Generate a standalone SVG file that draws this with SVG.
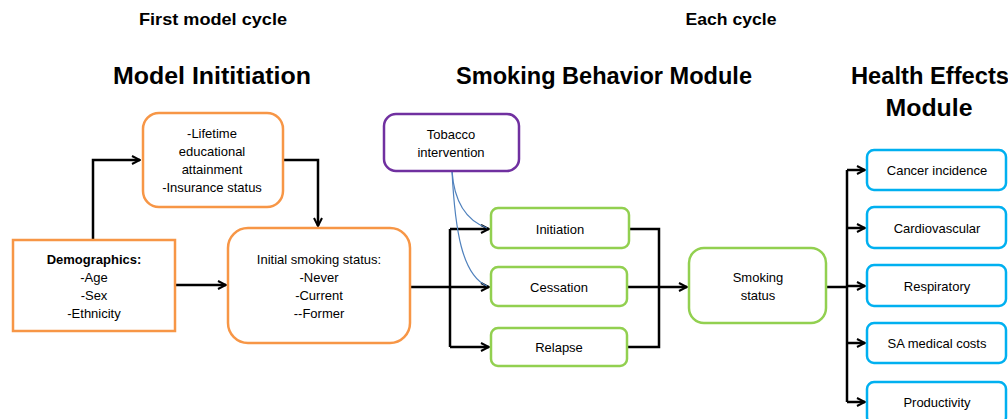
<svg xmlns="http://www.w3.org/2000/svg" width="1008" height="419" viewBox="0 0 1008 419">
<defs>
<style>
.t{font-family:"Liberation Sans",Arial,sans-serif;font-size:13px;fill:#000;text-anchor:middle;dominant-baseline:central}
.h1{font-family:"Liberation Sans",Arial,sans-serif;font-size:17px;font-weight:bold;fill:#000;text-anchor:middle;dominant-baseline:central}
.h2{font-family:"Liberation Sans",Arial,sans-serif;font-size:23px;font-weight:bold;fill:#000;text-anchor:middle;dominant-baseline:central}
.or{fill:#fff;stroke:#F79646;stroke-width:2.5}
.pu{fill:#fff;stroke:#7030A0;stroke-width:2.5}
.gr{fill:#fff;stroke:#92D050;stroke-width:2.5}
.bl{fill:#fff;stroke:#00B0F0;stroke-width:2.5}
.c{fill:none;stroke:#000;stroke-width:2.5}
.cb{fill:none;stroke:#4F81BD;stroke-width:1.2}
</style>
<marker id="a" viewBox="0 0 10 10" refX="9" refY="5" markerWidth="4" markerHeight="4" orient="auto" markerUnits="strokeWidth">
<path d="M1,1 L9,5 L1,9" fill="none" stroke="#000" stroke-width="2"/>
</marker>
</defs>
<rect width="1008" height="419" fill="#fff"/>
<text class="h1" x="213" y="19" textLength="148" lengthAdjust="spacingAndGlyphs">First model cycle</text>
<text class="h1" x="731" y="19" textLength="91" lengthAdjust="spacingAndGlyphs">Each cycle</text>
<text class="h2" x="212" y="76" textLength="198" lengthAdjust="spacingAndGlyphs">Model Inititiation</text>
<text class="h2" x="604" y="76" textLength="296" lengthAdjust="spacingAndGlyphs">Smoking Behavior Module</text>
<text class="h2" x="930" y="76" textLength="158" lengthAdjust="spacingAndGlyphs">Health Effects</text>
<text class="h2" x="929" y="108" textLength="87" lengthAdjust="spacingAndGlyphs">Module</text>
<g id="connectors">
<path class="c" d="M93,240 V160 H140" marker-end="url(#a)"/>
<path class="c" d="M283,160 H318 V226" marker-end="url(#a)"/>
<path class="c" d="M175,285 H226" marker-end="url(#a)"/>
<path class="c" d="M410,287 H450"/>
<path class="c" d="M450,229 V347"/>
<path class="c" d="M450,229 H489" marker-end="url(#a)"/>
<path class="c" d="M450,287 H489" marker-end="url(#a)"/>
<path class="c" d="M450,347 H489" marker-end="url(#a)"/>
<path class="c" d="M629,229 H659 V347 H627"/>
<path class="c" d="M627,287 H687" marker-end="url(#a)"/>
<path class="c" d="M826,287 H847"/>
<path class="c" d="M847,170 V402"/>
<path class="c" d="M847,170 H865" marker-end="url(#a)"/>
<path class="c" d="M847,228 H865" marker-end="url(#a)"/>
<path class="c" d="M847,286 H865" marker-end="url(#a)"/>
<path class="c" d="M847,343 H865" marker-end="url(#a)"/>
<path class="c" d="M847,402 H865" marker-end="url(#a)"/>
<path class="cb" d="M452,171 C454,200 465,220 487,228"/>
<path class="cb" d="M452,171 C455,230 462,275 487,286"/>
</g>
<g id="demographics">
<rect class="or" x="13" y="240" width="162" height="91"/>
<text class="t" x="94" y="259" font-weight="bold">Demographics:</text>
<text class="t" x="94" y="277">-Age</text>
<text class="t" x="94" y="295">-Sex</text>
<text class="t" x="94" y="313">-Ethnicity</text>
</g>
<g id="lifetime">
<rect class="or" x="143" y="113" width="140" height="94" rx="16"/>
<text class="t" x="212" y="133">-Lifetime</text>
<text class="t" x="212" y="151">educational</text>
<text class="t" x="212" y="169">attainment</text>
<text class="t" x="212" y="187">-Insurance status</text>
</g>
<g id="initial">
<rect class="or" x="228" y="228" width="182" height="115" rx="20"/>
<text class="t" x="319" y="259">Initial smoking status:</text>
<text class="t" x="319" y="277">-Never</text>
<text class="t" x="319" y="295">-Current</text>
<text class="t" x="319" y="313">--Former</text>
</g>
<g id="tobacco">
<rect class="pu" x="384" y="114" width="135" height="57" rx="12"/>
<text class="t" x="451" y="134">Tobacco</text>
<text class="t" x="451" y="152">intervention</text>
</g>
<g id="initiation">
<rect class="gr" x="491" y="208" width="138" height="40" rx="7"/>
<text class="t" x="560" y="229">Initiation</text>
</g>
<g id="cessation">
<rect class="gr" x="491" y="267" width="136" height="39" rx="7"/>
<text class="t" x="559" y="287">Cessation</text>
</g>
<g id="relapse">
<rect class="gr" x="491" y="328" width="136" height="38" rx="7"/>
<text class="t" x="559" y="347">Relapse</text>
</g>
<g id="smoking-status">
<rect class="gr" x="689" y="248" width="137" height="75" rx="15"/>
<text class="t" x="758" y="277">Smoking</text>
<text class="t" x="758" y="295">status</text>
</g>
<g id="cancer">
<rect class="bl" x="867" y="150" width="139" height="40" rx="7"/>
<text class="t" x="937" y="170">Cancer incidence</text>
</g>
<g id="cardio">
<rect class="bl" x="867" y="207" width="139" height="41" rx="7"/>
<text class="t" x="937" y="228">Cardiovascular</text>
</g>
<g id="respiratory">
<rect class="bl" x="867" y="265" width="139" height="41" rx="7"/>
<text class="t" x="937" y="286">Respiratory</text>
</g>
<g id="sa">
<rect class="bl" x="867" y="323" width="139" height="40" rx="7"/>
<text class="t" x="937" y="343">SA medical costs</text>
</g>
<g id="productivity">
<rect class="bl" x="867" y="382" width="139" height="42" rx="7"/>
<text class="t" x="937" y="402">Productivity</text>
</g>
</svg>
